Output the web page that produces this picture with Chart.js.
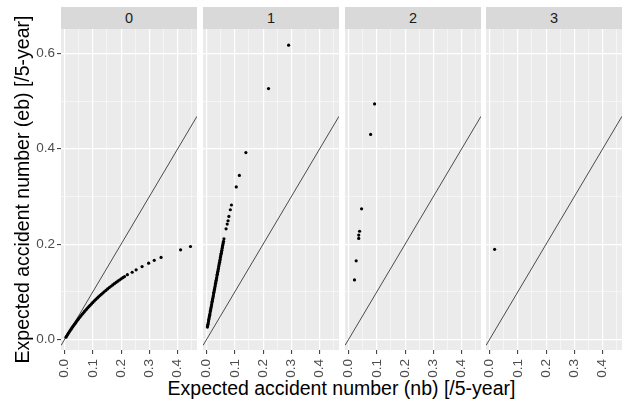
<!DOCTYPE html>
<html>
<head>
<meta charset="utf-8">
<script src="https://cdn.jsdelivr.net/npm/chart.js@4"></script>
<style>
body { margin: 0; background: #fff; }
#wrap { position: relative; width: 626px; height: 401px; overflow: hidden; font-family: Arial, "Liberation Sans", sans-serif; }
canvas { position: absolute; top: 0; }
.strip { position: absolute; top: 7px; height: 22px; background: #D9D9D9; color: #1A1A1A; font-size: 14.5px; line-height: 22px; text-align: center; }
#xtitle { position: absolute; left: 61px; width: 561px; top: 377px; line-height: 22px; text-align: center; font-size: 19.5px; color: #000; }
</style>
</head>
<body>
<div id="wrap">
	<div id="xtitle">Expected accident number (nb) [/5-year]</div>
</div>
<script>
// 패널 이름
const panelLabels = ['0', '1', '2', '3'];

// panel 0
const nb0 = [0.005, 0.008, 0.011, 0.014, 0.017, 0.02, 0.023, 0.026, 0.029, 0.032, 0.035, 0.038, 0.041, 0.044, 0.047, 0.05,
	0.054, 0.058, 0.062, 0.066, 0.07, 0.074, 0.078, 0.082, 0.086, 0.09, 0.095, 0.1, 0.105, 0.11, 0.115, 0.12, 0.125, 0.13,
	0.135, 0.14, 0.146, 0.152, 0.158, 0.164, 0.17, 0.176, 0.182, 0.188, 0.194, 0.2, 0.206, 0.212, 0.222, 0.239, 0.253,
	0.274, 0.297, 0.317, 0.341, 0.41, 0.445];
const eb0 = [0.0049, 0.0078, 0.0107, 0.0135, 0.0162, 0.0189, 0.0216, 0.0242, 0.0268, 0.0293, 0.0318, 0.0343, 0.0367, 0.0391, 0.0414, 0.0438,
	0.0468, 0.0498, 0.0527, 0.0555, 0.0583, 0.0611, 0.0638, 0.0664, 0.069, 0.0716, 0.0747, 0.0778, 0.0808, 0.0837, 0.0866, 0.0894, 0.0921, 0.0948,
	0.0974, 0.1, 0.103, 0.106, 0.1089, 0.1117, 0.1144, 0.1171, 0.1197, 0.1223, 0.1248, 0.1273, 0.1297, 0.132, 0.136, 0.141, 0.146,
	0.153, 0.16, 0.166, 0.172, 0.188, 0.195];

// panel 1
const nb1 = [0.003, 0.004, 0.005, 0.006, 0.007, 0.008, 0.009, 0.01, 0.011, 0.012, 0.013, 0.014, 0.015, 0.016, 0.017, 0.018, 0.019, 0.02,
	0.021, 0.022, 0.023, 0.024, 0.025, 0.026, 0.027, 0.028, 0.029, 0.03, 0.031, 0.032, 0.033, 0.034, 0.035, 0.036, 0.037, 0.038, 0.039,
	0.04, 0.041, 0.042, 0.043, 0.044, 0.045, 0.046, 0.047, 0.048, 0.049, 0.05, 0.051, 0.052, 0.053, 0.054, 0.055, 0.056, 0.057, 0.058,
	0.059, 0.06, 0.0615, 0.069, 0.073, 0.076, 0.079, 0.084, 0.088, 0.105, 0.116, 0.139, 0.219, 0.29];
const eb1 = [0.026, 0.029, 0.032, 0.035, 0.039, 0.042, 0.045, 0.048, 0.051, 0.054, 0.058, 0.061, 0.064, 0.067, 0.07, 0.073, 0.077, 0.08,
	0.083, 0.086, 0.089, 0.092, 0.096, 0.099, 0.102, 0.105, 0.108, 0.111, 0.115, 0.118, 0.121, 0.124, 0.127, 0.13, 0.134, 0.137, 0.14,
	0.143, 0.146, 0.149, 0.153, 0.156, 0.159, 0.162, 0.165, 0.168, 0.172, 0.175, 0.178, 0.181, 0.184, 0.187, 0.191, 0.194, 0.197, 0.2,
	0.203, 0.206, 0.211, 0.232, 0.242, 0.249, 0.258, 0.272, 0.282, 0.32, 0.344, 0.392, 0.526, 0.617];

// panel 2
const nb2 = [0.021, 0.027, 0.036, 0.036, 0.039, 0.046, 0.078, 0.092];
const eb2 = [0.125, 0.165, 0.212, 0.219, 0.227, 0.274, 0.43, 0.494];

// panel 3
const nb3 = [0.018];
const eb3 = [0.189];

// 눈금
const xTicks = [0, 0.05, 0.1, 0.15, 0.2, 0.25, 0.3, 0.35, 0.4, 0.45];
const yTicks = [0, 0.1, 0.2, 0.3, 0.4, 0.5, 0.6];
const xMin = -0.0125, xMax = 0.468;
const yMin = -0.022, yMax = 0.651;

const nbList = [nb0, nb1, nb2, nb3];
const ebList = [eb0, eb1, eb2, eb3];

const panelLeft = [61, 203, 345, 486];
const panelWidth = 136;
const panelTop = 29;
const pad = 8;

Chart.defaults.font.family = 'Arial, "Liberation Sans", sans-serif';

function isStep(v, step) {
	return Math.abs(v / step - Math.round(v / step)) < 1e-6;
}

// 패널 배경
const panelBg = {
	id: 'panelBg',
	beforeDraw(chart) {
		const { ctx, chartArea: a } = chart;
		ctx.save();
		ctx.fillStyle = '#EBEBEB';
		ctx.fillRect(a.left, a.top, a.right - a.left, a.bottom - a.top);
		ctx.restore();
	}
};

let wrap = document.getElementById('wrap');

panelLabels.forEach(function(label, i) {
	let strip = document.createElement('div');
	strip.className = 'strip';
	strip.style.left = panelLeft[i] + 'px';
	strip.style.width = panelWidth + 'px';
	strip.textContent = label;
	wrap.appendChild(strip);

	let first = i === 0;
	let canvas = document.createElement('canvas');
	let left = first ? 0 : panelLeft[i] - pad;
	let width = first ? panelLeft[0] + panelWidth + pad : panelWidth + 2 * pad;
	canvas.width = width;
	canvas.height = 401;
	canvas.style.left = left + 'px';
	wrap.appendChild(canvas);

	let points = nbList[i].map((x, k) => ({ x: x, y: ebList[i][k] }));

	new Chart(canvas, {
		type: 'scatter',
		data: {
			datasets: [{
				data: points,
				backgroundColor: '#000',
				borderWidth: 0,
				pointRadius: 1.6
			}, {
				data: [{ x: xMin, y: xMin }, { x: xMax, y: xMax }],
				showLine: true,
				borderColor: '#222',
				borderWidth: 0.8,
				pointRadius: 0
			}]
		},
		options: {
			responsive: false,
			animation: false,
			events: [],
			layout: { padding: { left: first ? 0 : pad, right: pad, top: panelTop, bottom: 0 } },
			plugins: { legend: { display: false }, tooltip: { enabled: false } },
			scales: {
				x: {
					type: 'linear',
					min: xMin,
					max: xMax,
					afterBuildTicks: s => { s.ticks = xTicks.map(v => ({ value: v })); },
					afterFit: s => { s.height = 51; s.paddingLeft = 0; s.paddingRight = 0; },
					ticks: {
						autoSkip: false,
						minRotation: 90,
						maxRotation: 90,
						padding: 5,
						color: '#4D4D4D',
						font: { size: 13.5 },
						callback: v => isStep(v, 0.1) ? v.toFixed(1) : ''
					},
					grid: {
						color: '#FFFFFF',
						lineWidth: c => isStep(c.tick.value, 0.1) ? 1.2 : 0.5,
						tickLength: 4,
						tickWidth: 1,
						tickColor: c => isStep(c.tick.value, 0.1) ? '#333333' : 'rgba(0,0,0,0)'
					},
					border: { display: false }
				},
				y: {
					min: yMin,
					max: yMax,
					afterBuildTicks: s => { s.ticks = yTicks.map(v => ({ value: v })); },
					afterFit: s => { s.width = first ? 61 : 0; s.paddingTop = 0; s.paddingBottom = 0; },
					ticks: {
						display: first,
						autoSkip: false,
						padding: 2,
						color: '#4D4D4D',
						font: { size: 13.5 },
						callback: v => isStep(v, 0.2) ? v.toFixed(1) : ''
					},
					grid: {
						color: '#FFFFFF',
						lineWidth: c => isStep(c.tick.value, 0.2) ? 1.2 : 0.5,
						drawTicks: first,
						tickLength: 4,
						tickWidth: 1,
						tickColor: c => isStep(c.tick.value, 0.2) ? '#333333' : 'rgba(0,0,0,0)'
					},
					border: { display: false },
					title: {
						display: first,
						text: 'Expected accident number (eb) [/5-year]',
						color: '#000',
						font: { size: 19.5 },
						padding: { top: 11.5, bottom: 0 }
					}
				}
			}
		},
		plugins: [panelBg]
	});
});
</script>
</body>
</html>
